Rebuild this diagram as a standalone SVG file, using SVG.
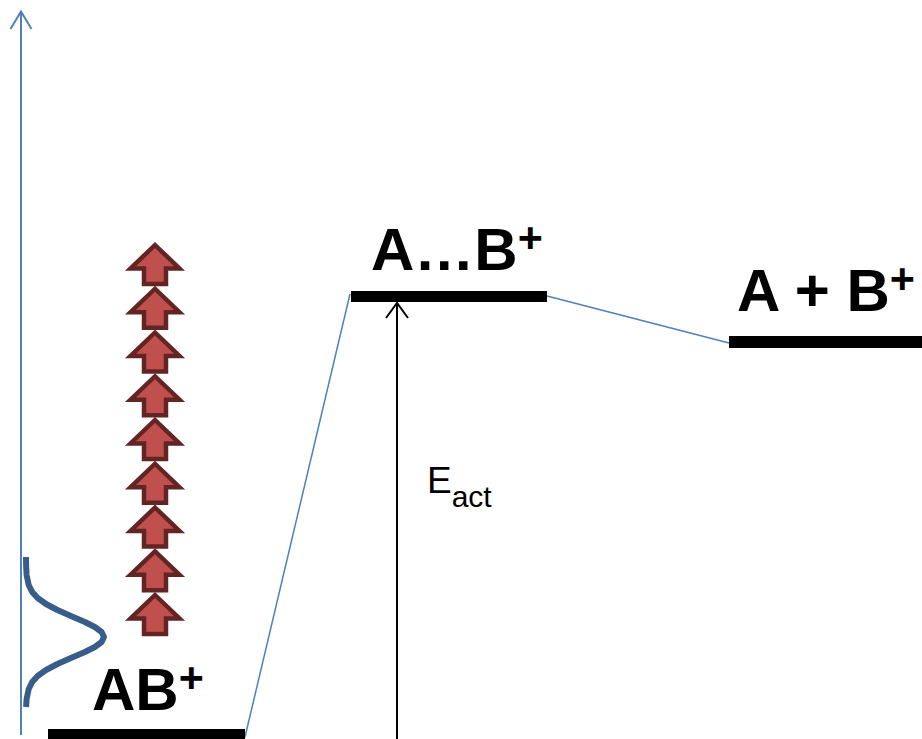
<svg xmlns="http://www.w3.org/2000/svg" width="922" height="739" viewBox="0 0 922 739">
<defs>
<style>
.lvl{fill:#000;}
.lbl{font-family:"Liberation Sans",Arial,sans-serif;font-weight:bold;font-size:60px;fill:#000;}
.sup{font-size:43px;}
.eact{font-family:"Liberation Sans",Arial,sans-serif;font-size:37px;fill:#000;}
.conn{stroke:#4F81BD;stroke-width:1.5;fill:none;}
.axis{stroke:#4F81BD;stroke-width:2;fill:none;}
.up{fill:#C0504D;stroke:#632523;stroke-width:4.5;stroke-linejoin:miter;}
</style>
<path id="uparrow" d="M0,0 L24.5,23.5 L11,23.5 L11,39 L-11,39 L-11,23.5 L-24.5,23.5 Z"/>
</defs>
<rect width="922" height="739" fill="#fff"/>

<g id="energy-axis">
<line class="axis" x1="21" y1="12" x2="21" y2="735"/>
<polyline class="axis" points="10.5,29 21,11.5 31.5,29"/>
</g>

<g id="distribution">
<polyline fill="none" stroke="#385D8A" stroke-width="6" stroke-linejoin="round" points="26,557 26.1,565 26.6,575 28.7,585 32.2,592 37.6,598 46,604 57.4,610 70.9,616 84.9,622 94.8,627 101.6,632 104,637 101.6,642 94.8,647 84.9,652 70.9,658 57.4,664 46,670 37.6,676 32.2,682 28.7,689 26.6,699 26.1,707"/>
</g>

<g id="excitation">
<use href="#uparrow" class="up" transform="translate(155,245)"/>
<use href="#uparrow" class="up" transform="translate(155,288.75)"/>
<use href="#uparrow" class="up" transform="translate(155,332.5)"/>
<use href="#uparrow" class="up" transform="translate(155,376.25)"/>
<use href="#uparrow" class="up" transform="translate(155,420)"/>
<use href="#uparrow" class="up" transform="translate(155,463.75)"/>
<use href="#uparrow" class="up" transform="translate(155,507.5)"/>
<use href="#uparrow" class="up" transform="translate(155,551.25)"/>
<use href="#uparrow" class="up" transform="translate(155,595)"/>
</g>

<g id="connectors">
<line class="conn" x1="245" y1="737" x2="350" y2="294"/>
<line class="conn" x1="547" y1="296" x2="729" y2="343"/>
</g>

<g id="level-AB">
<rect class="lvl" x="48" y="729" width="197" height="12"/>
<text class="lbl" x="92" y="710">AB<tspan class="sup" dy="-18">+</tspan></text>
</g>

<g id="level-AB-complex">
<rect class="lvl" x="351" y="291" width="196" height="11"/>
<text class="lbl" x="371" y="270">A…B<tspan class="sup" dy="-18">+</tspan></text>
</g>

<g id="level-products">
<rect class="lvl" x="729" y="336" width="195" height="12"/>
<text class="lbl" x="737" y="311">A + B<tspan class="sup" dy="-18">+</tspan></text>
</g>

<g id="activation-energy">
<line x1="397" y1="739" x2="397" y2="304" stroke="#000" stroke-width="2"/>
<polyline points="386,318 397,303 408,318" fill="none" stroke="#000" stroke-width="2"/>
<text class="eact" x="427" y="493">E<tspan font-size="30" dy="14">act</tspan></text>
</g>
</svg>
